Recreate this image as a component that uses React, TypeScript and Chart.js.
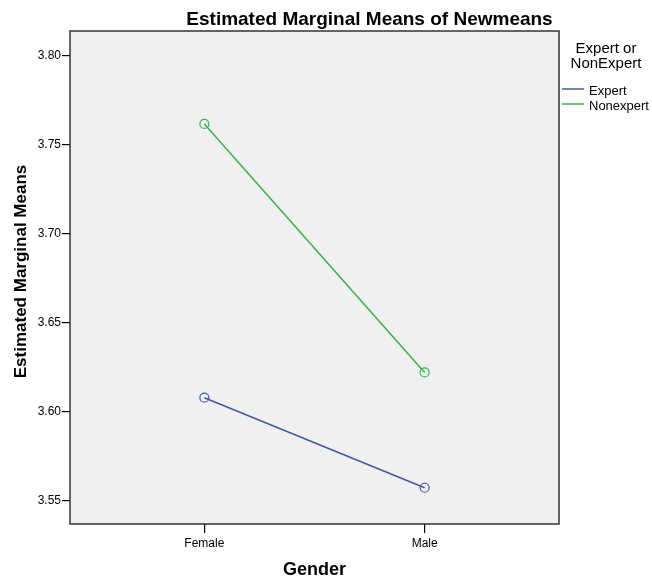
import React, { useEffect, useRef } from 'react';
import { Chart, registerables } from 'chart.js';

Chart.register(...registerables);

const categories = ['Female', 'Male'];
const expertMeans = [3.6077, 3.557];
const nonexpertMeans = [3.7618, 3.6219];
const yTicks = [3.55, 3.6, 3.65, 3.7, 3.75, 3.8];
const seriesLabels = ['Expert', 'Nonexpert'];
const seriesColors = ['#3e58ac', '#2eb848'];
const chartTitle = 'Estimated Marginal Means of Newmeans';
const xTitle = 'Gender';
const yTitle = 'Estimated Marginal Means';
const legendTitle = ['Expert or', 'NonExpert'];

const FONT = "'Liberation Sans', Arial, sans-serif";

const decorPlugin = {
  id: 'decor',
  beforeDraw(chart: any) {
    const { ctx, chartArea: a } = chart;
    ctx.save();
    ctx.fillStyle = '#f0f0f0';
    ctx.fillRect(a.left, a.top, a.right - a.left, a.bottom - a.top);
    ctx.restore();
  },
  afterDraw(chart: any) {
    const { ctx, chartArea: a } = chart;
    ctx.save();
    ctx.strokeStyle = '#333333';
    ctx.lineWidth = 1.5;
    ctx.strokeRect(a.left, a.top, a.right - a.left, a.bottom - a.top);

    ctx.fillStyle = '#000';
    // chart title
    ctx.font = `bold 19px ${FONT}`;
    ctx.textAlign = 'center';
    ctx.textBaseline = 'alphabetic';
    ctx.fillText(chartTitle, 369.5, 25);
    // x title
    ctx.font = `bold 18px ${FONT}`;
    ctx.fillText(xTitle, (a.left + a.right) / 2, 575);
    // y title
    ctx.save();
    ctx.translate(21, (a.top + a.bottom) / 2 - 6);
    ctx.rotate(-Math.PI / 2);
    ctx.font = `bold 17px ${FONT}`;
    ctx.textBaseline = 'middle';
    ctx.fillText(yTitle, 0, 0);
    ctx.restore();
    // legend
    ctx.font = `15px ${FONT}`;
    ctx.textAlign = 'center';
    ctx.textBaseline = 'alphabetic';
    ctx.fillText(legendTitle[0], 606, 53);
    ctx.fillText(legendTitle[1], 606, 68);
    chart.data.datasets.forEach((ds: any, i: number) => {
      const y = 89 + i * 15;
      ctx.strokeStyle = ds.borderColor;
      ctx.lineWidth = 1.5;
      ctx.beginPath();
      ctx.moveTo(562, y);
      ctx.lineTo(584, y);
      ctx.stroke();
      ctx.fillStyle = '#000';
      ctx.font = `13px ${FONT}`;
      ctx.textAlign = 'left';
      ctx.fillText(ds.label, 589, y + 6);
    });
    ctx.restore();
  },
};

export default function App() {
  const ref = useRef<HTMLCanvasElement>(null);
  useEffect(() => {
    document.body.style.margin = '0';
    const makeData = (vals: number[]) => vals.map((v, i) => ({ x: i, y: v }));
    const chart = new Chart(ref.current!, {
      type: 'line',
      data: {
        datasets: [expertMeans, nonexpertMeans].map((vals, i) => ({
          label: seriesLabels[i],
          data: makeData(vals),
          borderColor: seriesColors[i],
          backgroundColor: seriesColors[i],
          borderWidth: 1.5,
          pointRadius: 4.5,
          pointBorderWidth: 1.2,
          pointBorderColor: seriesColors[i],
          pointBackgroundColor: 'rgba(0,0,0,0)',
          fill: false,
          tension: 0,
          clip: false as any,
        })),
      },
      options: {
        animation: false,
        responsive: false,
        layout: { padding: { top: 31, right: 93, left: 0, bottom: 0 } },
        plugins: {
          legend: { display: false },
          title: { display: false },
          tooltip: { enabled: false },
        },
        scales: {
          x: {
            type: 'linear',
            min: -0.61,
            max: 1.61,
            afterBuildTicks: (scale: any) => {
              scale.ticks = categories.map((_, i) => ({ value: i }));
            },
            afterFit: (scale: any) => {
              scale.height = 56;
            },
            ticks: {
              callback: (v: any) => categories[v] ?? '',
              color: '#000',
              font: { family: FONT, size: 12 },
              padding: 3,
              maxRotation: 0,
              autoSkip: false,
            },
            grid: {
              drawOnChartArea: false,
              drawTicks: true,
              tickLength: 9,
              color: '#000',
              lineWidth: 1.2,
            },
            border: { display: false },
          },
          y: {
            type: 'linear',
            min: 3.5366,
            max: 3.8141,
            afterBuildTicks: (scale: any) => {
              scale.ticks = yTicks.map((v) => ({ value: v }));
            },
            afterFit: (scale: any) => {
              scale.width = 70;
            },
            ticks: {
              callback: (v: any) => Number(v).toFixed(2),
              color: '#000',
              font: { family: FONT, size: 12 },
              padding: 1,
              autoSkip: false,
            },
            grid: {
              drawOnChartArea: false,
              drawTicks: true,
              tickLength: 8,
              color: '#000',
              lineWidth: 1.2,
            },
            border: { display: false },
          },
        },
      },
      plugins: [decorPlugin],
    });
    return () => chart.destroy();
  }, []);
  return (
    <div style={{ width: 652, height: 580 }}>
      <canvas ref={ref} width={652} height={580} />
    </div>
  );
}
